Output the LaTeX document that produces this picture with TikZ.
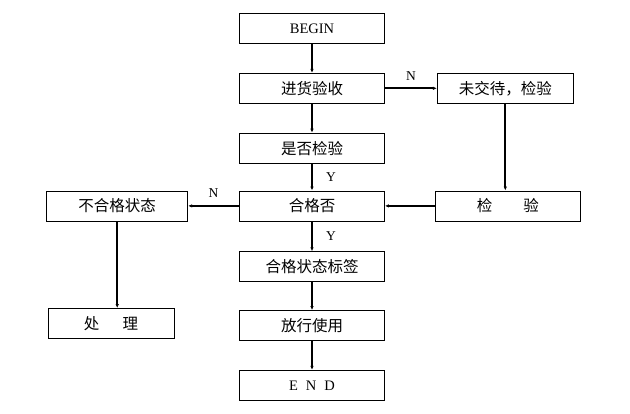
\documentclass[tikz,border=0pt]{standalone}
\usepackage{fontspec}
\setmainfont{Liberation Serif}
\newfontfamily\cjk{Noto Sans CJK SC}
\usetikzlibrary{positioning, arrows.meta}
\tikzset{
	every node/.append style={
		minimum height=30pt,
	},
	layer/.append style={
		draw,
		line width=0.8pt,
		align = center,
		minimum width=145pt,
		font={\cjk\fontsize{15.5}{17}\selectfont}
	},
	latin/.append style={
		font={\fontsize{14.5}{16}\selectfont}
	},
	labe/.append style={
		minimum height=0pt,
		inner sep=1pt,
		font={\fontsize{13.5}{15}\selectfont}
	},
	link/.append style={
		line width=2pt,
		-{Latex[length=4pt,width=3.5pt]}
	}
}

\begin{document}
\begin{tikzpicture}[x=1pt,y=-1pt]
\useasboundingbox (0,0) rectangle (630,413);

\node(begin)[layer, latin] at (312,28.5) {BEGIN};

\node(jh)[layer, below = 29pt of begin]{进货验收};
\draw[link] (begin) -- (jh);

\node(sf)[layer, below = 29pt of jh]{是否检验};
\draw[link] (jh) -- (sf);

\node(hg)[layer, below = 27pt of sf]{合格否};
\draw[link] (sf) -- node[labe, right = 12pt] {Y} (hg);

\node(bq)[layer, below = 30pt of hg]{合格状态标签};
\draw[link] (hg) -- node[labe, right = 12pt] {Y} (bq);

\node(fx)[layer, below = 28pt of bq]{放行使用};
\draw[link] (bq) -- (fx);

\node(end)[layer, latin, below = 29pt of fx]{E\hspace{0.55em}N\hspace{0.55em}D};
\draw[link] (fx) -- (end);

% right branch
\node(wj)[layer, minimum width=136pt, right = 52pt of jh]{未交待，检验};
\draw[link] (jh) -- node[labe, above = 6pt] {N} (wj);

\node(jy)[layer, right = 50pt of hg]{检\hspace{2em}验};
\draw[link] (wj.south) -- (wj.south |- jy.north);
\draw[link] (jy) -- (hg);

% left branch
\node(bh)[layer, minimum width=141pt, left = 51pt of hg]{不合格状态};
\draw[link] (hg) -- node[labe, above = 6pt] {N} (bh);

\node(cl)[layer, minimum width=126pt] at (111,323.5) {处\hspace{1.5em}理};
\draw[link] (bh.south) -- (bh.south |- cl.north);

\end{tikzpicture}
\end{document}
